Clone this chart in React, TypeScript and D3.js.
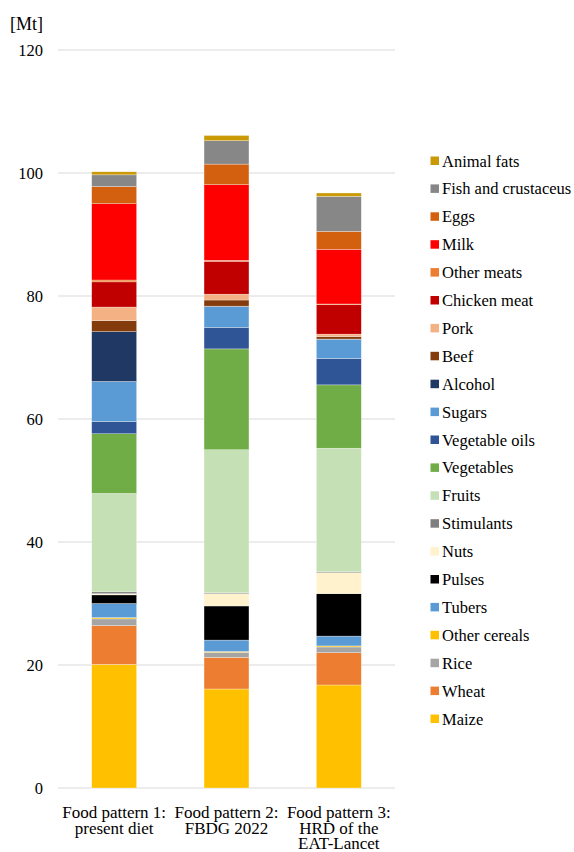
import React from "react";
import * as d3 from "d3";

// Food groups, stacked bottom to top
const foodGroups = [
  "Maize", "Wheat", "Rice", "Other cereals", "Tubers", "Pulses", "Nuts", "Stimulants",
  "Fruits", "Vegetables", "Vegetable oils", "Sugars", "Alcohol", "Beef", "Pork",
  "Chicken meat", "Other meats", "Milk", "Eggs", "Fish and crustaceus", "Animal fats",
];

const groupColors = [
  "#FFC000", "#ED7D31", "#A5A5A5", "#FFC000", "#5B9BD5", "#000000", "#FFF2CC", "#7F7F7F",
  "#C5E0B4", "#70AD47", "#2F5597", "#5B9BD5", "#203864", "#843C0C", "#F4B183",
  "#C00000", "#ED7D31", "#FF0000", "#D2600F", "#878787", "#C99A06",
];

const patternLabels = [
  ["Food pattern 1:", "present diet"],
  ["Food pattern 2:", "FBDG 2022"],
  ["Food pattern 3:", "HRD of the", "EAT-Lancet"],
];

// Mass per food group [Mt], same order as foodGroups
const pattern1 = [20.1, 6.3, 1.1, 0.2, 2.3, 1.4, 0.2, 0.3, 16.0, 9.7, 2.0, 6.5, 8.1, 1.8, 2.2, 4.1, 0.3, 12.4, 2.8, 1.9, 0.5];
const pattern2 = [16.1, 5.15, 0.8, 0.15, 1.85, 5.55, 2.0, 0.15, 23.25, 16.4, 3.5, 3.35, 0.1, 1.0, 0.95, 5.35, 0.15, 12.3, 3.35, 3.8, 0.85];
const pattern3 = [16.75, 5.25, 0.93, 0.17, 1.6, 6.9, 3.4, 0.15, 20.1, 10.3, 4.3, 3.1, 0.05, 0.4, 0.4, 4.8, 0.1, 8.9, 2.9, 5.7, 0.55];

const yTicks = [0, 20, 40, 60, 80, 100, 120];

const SERIF = "Liberation Serif";

export default function App() {
  const width = 574;
  const height = 852;
  const left = 58;
  const right = 395;
  const top = 50;
  const bottom = 788;

  const series = [pattern1, pattern2, pattern3];
  const rows = series.map((vals, i) => {
    const r: Record<string, number | string> = { name: String(i) };
    foodGroups.forEach((g, j) => (r[g] = vals[j]));
    return r;
  });

  const x = d3
    .scaleBand<string>()
    .domain(rows.map((r) => r.name as string))
    .range([left, right])
    .paddingInner(0.6)
    .paddingOuter(0.3);
  const y = d3.scaleLinear().domain([0, 120]).range([bottom, top]);

  const stack = d3.stack<Record<string, number | string>>().keys(foodGroups);
  const layers = stack(rows as any);

  const legendTop = 161;
  const legendStep = (719 - 161) / (foodGroups.length - 1);
  const legendOrder = [...foodGroups].reverse();

  return (
    <svg
      width={width}
      height={height}
      style={{ position: "absolute", left: 0, top: 0, background: "#fff" }}
    >
      {/* gridlines */}
      {yTicks.map((t) => (
        <line key={t} x1={left} x2={right} y1={y(t)} y2={y(t)} stroke="#D9D9D9" strokeWidth={1} />
      ))}
      {/* y tick labels */}
      {yTicks.map((t) => (
        <text key={"l" + t} x={43} y={y(t) + 5.5} textAnchor="end" fontSize={16.5} fill="#000" style={{ fontFamily: SERIF }}>
          {t}
        </text>
      ))}
      <text x={10} y={30} fontSize={18} fill="#000" style={{ fontFamily: SERIF }}>[Mt]</text>

      {/* stacked bars */}
      {layers.map((layer, li) => (
        <g key={foodGroups[li]} fill={groupColors[li]}>
          {layer.map((d, di) => {
            const h = y(d[0]) - y(d[1]);
            if (h <= 0) return null;
            return (
              <rect
                key={di}
                x={x(String(di))}
                y={y(d[1])}
                width={x.bandwidth()}
                height={h}
                stroke="#ffffff"
                strokeOpacity={0.6}
                strokeWidth={0.5}
              />
            );
          })}
        </g>
      ))}

      {/* category labels */}
      {patternLabels.map((lines, i) =>
        lines.map((ln, k) => (
          <text
            key={"c" + i + "-" + k}
            x={(x(String(i)) as number) + x.bandwidth() / 2}
            y={818 + k * 15.5}
            textAnchor="middle"
            fontSize={17}
            fill="#000"
            style={{ fontFamily: SERIF }}
          >
            {ln}
          </text>
        ))
      )}

      {/* legend */}
      {legendOrder.map((g, i) => {
        const cy = legendTop + i * legendStep;
        const ci = foodGroups.indexOf(g);
        return (
          <g key={"lg" + g}>
            <rect x={430.5} y={cy - 4.5} width={8.5} height={8.5} fill={groupColors[ci]} />
            <text x={442} y={cy + 5.5} fontSize={16.5} fill="#000" style={{ fontFamily: SERIF }}>
              {g}
            </text>
          </g>
        );
      })}
    </svg>
  );
}
